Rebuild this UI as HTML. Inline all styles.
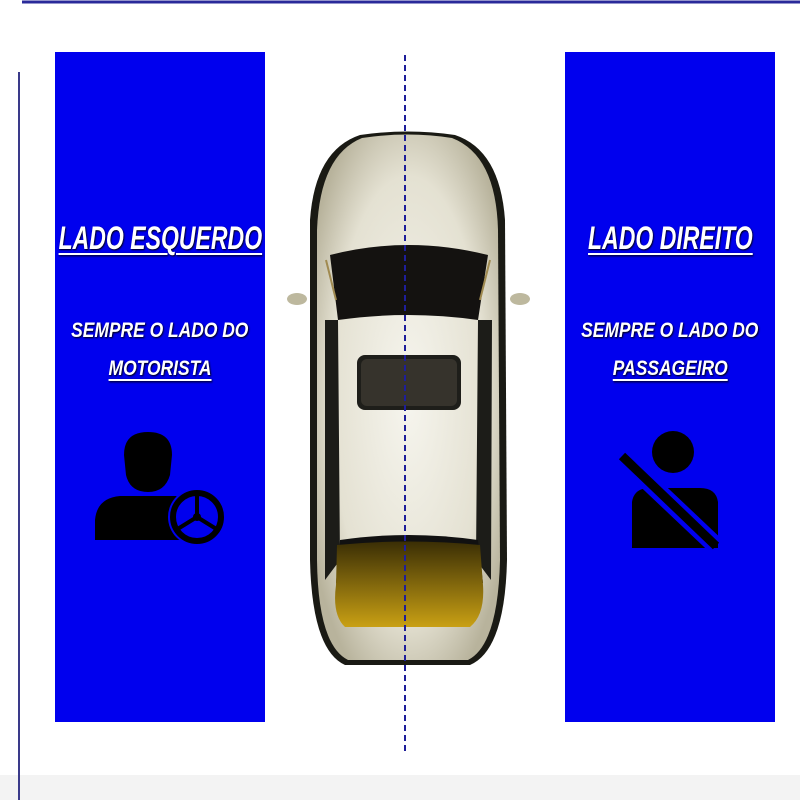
<!DOCTYPE html>
<html><head><style>
body{margin:0;width:800px;height:800px;background:#fff;overflow:hidden;position:relative;font-family:"Liberation Sans",sans-serif}
.t{position:absolute;color:#fff;font-weight:bold;font-style:italic;text-align:center;white-space:nowrap;text-shadow:1px 1px 2px #000;line-height:1}
.t span{display:inline-block}
.u{text-decoration:underline;text-decoration-thickness:2px;text-underline-offset:4px}
</style></head><body>
<svg width="800" height="800" style="position:absolute;left:0;top:0">
<defs>
<radialGradient id="body" cx="50%" cy="50%" r="60%"><stop offset="0" stop-color="#f6f5ee"/><stop offset="0.7" stop-color="#e4e1d2"/><stop offset="1" stop-color="#b8b39c"/></radialGradient>
<linearGradient id="trunk" x1="0" y1="0" x2="0" y2="1"><stop offset="0" stop-color="#3a2e05"/><stop offset="1" stop-color="#c9a014"/></linearGradient>
</defs>
<rect x="0" y="775" width="800" height="25" fill="#f3f3f3"/>
<line x1="22" y1="2" x2="800" y2="2" stroke="#2a2a9a" stroke-width="3"/>
<line x1="19" y1="72" x2="19" y2="800" stroke="#3a3a8a" stroke-width="2"/>
<rect x="55" y="52" width="210" height="670" fill="#0000ee"/>
<rect x="565" y="52" width="210" height="670" fill="#0000ee"/>
<ellipse cx="297" cy="299" rx="10" ry="6" fill="#bdb89e"/>
<ellipse cx="520" cy="299" rx="10" ry="6" fill="#bdb89e"/>
<path d="M360 135 Q408 128 455 135 Q500 150 505 220 L507 560 Q505 650 470 665 L345 665 Q312 650 310 560 L310 220 Q315 150 360 135Z" fill="#1a1a14"/>
<path d="M362 138 Q408 131 452 138 Q496 155 498 230 L500 560 Q498 645 468 660 L348 660 Q318 645 317 560 L317 230 Q320 155 362 138Z" fill="url(#body)"/>
<path d="M330 255 Q408 235 488 255 L478 320 Q408 310 338 320Z" fill="#141210"/>
<path d="M336 300 L326 260 M480 300 L490 260" stroke="#a08a50" stroke-width="2"/>
<path d="M325 320 L338 320 L340 560 L325 580Z M492 320 L478 320 L476 560 L491 580Z" fill="#1c1c18"/>
<rect x="357" y="355" width="104" height="55" rx="8" fill="#1e1e1a"/>
<rect x="361" y="359" width="96" height="47" rx="6" fill="#36332c"/>
<path d="M340 540 Q408 530 478 540 L483 583 Q408 590 336 583Z" fill="#111"/>
<path d="M337 545 Q408 538 480 545 L483 585 Q485 615 470 627 L345 627 Q332 615 336 585Z" fill="url(#trunk)"/>
<line x1="405" y1="55" x2="405" y2="755" stroke="#1e1e9a" stroke-width="2" stroke-dasharray="6,4"/>
<path d="M124 455 Q124 432 148 432 Q172 432 172 455 L170 475 Q165 492 148 492 Q130 492 126 475Z" fill="#000"/>
<path d="M95 540 L95 520 Q97 498 120 496 L176 496 Q188 500 185 515 L180 540Z" fill="#000"/>
<circle cx="197" cy="517" r="29" fill="#0000ee"/>
<circle cx="197" cy="517" r="24" fill="none" stroke="#000" stroke-width="6"/>
<circle cx="197" cy="517" r="4" fill="#000"/>
<path d="M197 517 L197 494 M197 517 L176 530 M197 517 L218 530" stroke="#000" stroke-width="4"/>
<circle cx="673" cy="452" r="21" fill="#000"/>
<path d="M632 548 L632 502 Q634 488 650 488 L700 488 Q716 488 718 502 L718 548Z" fill="#000"/>
<line x1="620" y1="455" x2="715" y2="545" stroke="#0000ee" stroke-width="18"/>
<line x1="622" y1="456" x2="716" y2="546" stroke="#000" stroke-width="9"/>
</svg>
<div class="t" style="left:0;width:320px;top:222px;font-size:32px"><span class="u" style="transform:scaleX(.72)">LADO ESQUERDO</span></div>
<div class="t" style="left:0;width:320px;top:320px;font-size:21px"><span style="transform:scaleX(.83)">SEMPRE O LADO DO</span></div>
<div class="t" style="left:0;width:320px;top:358px;font-size:21px"><span class="u" style="transform:scaleX(.83)">MOTORISTA</span></div>
<div class="t" style="left:510px;width:320px;top:222px;font-size:32px"><span class="u" style="transform:scaleX(.72)">LADO DIREITO</span></div>
<div class="t" style="left:510px;width:320px;top:320px;font-size:21px"><span style="transform:scaleX(.83)">SEMPRE O LADO DO</span></div>
<div class="t" style="left:510px;width:320px;top:358px;font-size:21px"><span class="u" style="transform:scaleX(.83)">PASSAGEIRO</span></div>
</body></html>
